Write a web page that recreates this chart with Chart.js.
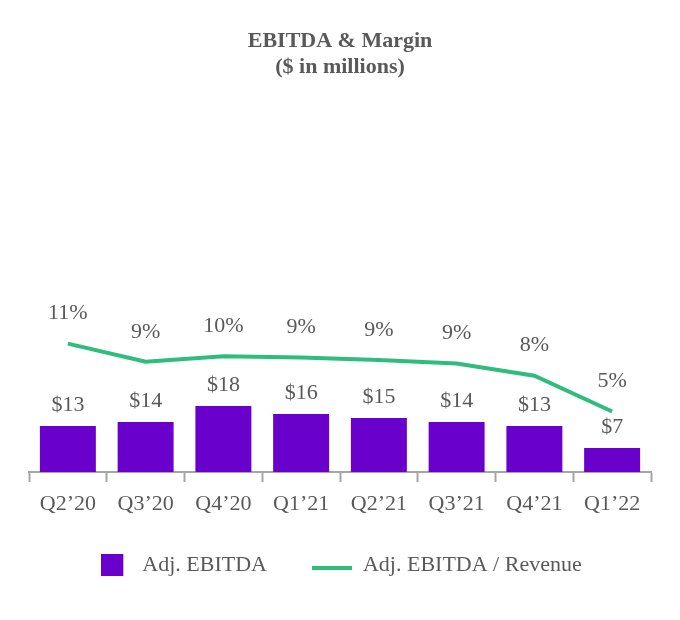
<!DOCTYPE html>
<html>
<head>
<meta charset="utf-8">
<script src="https://cdn.jsdelivr.net/npm/chart.js@4.4.1/dist/chart.umd.min.js"></script>
<style>
  html, body { margin: 0; padding: 0; background: #ffffff; }
  #wrap { width: 680px; height: 620px; }
</style>
</head>
<body>
<div id="wrap"><canvas id="c" width="680" height="620"></canvas></div>
<script>
const categories = ["Q2\u201920", "Q3\u201920", "Q4\u201920", "Q1\u201921", "Q2\u201921", "Q3\u201921", "Q4\u201921", "Q1\u201922"];
const adjEbitda = [12.8, 13.9, 18.3, 16.1, 15.0, 13.9, 12.8, 6.7];
const ebitdaMargin = [10.6, 9.1, 9.55, 9.45, 9.25, 8.95, 7.95, 5.0];
const seriesNames = ["Adj. EBITDA", "Adj. EBITDA / Revenue"];
const titleLines = ["EBITDA & Margin", "($ in millions)"];

const PURPLE = "#6a00cc";
const GREEN = "#2ebd7c";
const GREY_TEXT = "#595959";
const AXIS_GREY = "#a6a6a6";
const FONT = "'Liberation Serif', 'Times New Roman', serif";

Chart.defaults.font.family = FONT;
Chart.defaults.color = GREY_TEXT;

// legend icons (legend box width 33, icon canvas centred on the box centre)
function makeSquare() {
  const c = document.createElement('canvas');
  c.width = 27; c.height = 22;
  const x = c.getContext('2d');
  x.fillStyle = PURPLE; x.fillRect(0, 0, 22, 22);
  return c;
}
function makeLine() {
  const c = document.createElement('canvas');
  c.width = 47; c.height = 12;
  const x = c.getContext('2d');
  x.fillStyle = GREEN; x.fillRect(0, 7, 40, 4);
  return c;
}
const squareIcon = makeSquare();
const lineIcon = makeLine();

const valueLabels = {
  id: 'valueLabels',
  afterDatasetsDraw(chart) {
    const ctx = chart.ctx;
    ctx.save();
    ctx.font = "22px " + FONT;
    ctx.fillStyle = GREY_TEXT;
    ctx.textAlign = 'center';
    ctx.textBaseline = 'middle';
    chart.data.datasets.forEach((ds, di) => {
      const meta = chart.getDatasetMeta(di);
      meta.data.forEach((el, i) => {
        const v = ds.data[i];
        let txt, dy;
        if (ds.type === 'bar') { txt = '$' + Math.round(v); dy = 21; }
        else { txt = Math.round(v) + '%'; dy = 30; }
        ctx.fillText(txt, el.x, el.y - dy);
      });
    });
    ctx.restore();
  }
};

// let the category labels extend below the (short) x-axis box without clipping
const labelRoom = {
  id: 'labelRoom',
  afterLayout(chart) {
    const x = chart.scales.x;
    x.bottom = x.top + 52;
  }
};

new Chart(document.getElementById('c'), {
  data: {
    labels: categories,
    datasets: [
      {
        type: 'bar',
        label: seriesNames[0],
        data: adjEbitda,
        backgroundColor: PURPLE,
        yAxisID: 'y',
        categoryPercentage: 1.0,
        barPercentage: 0.72,
        order: 2
      },
      {
        type: 'line',
        label: seriesNames[1],
        data: ebitdaMargin,
        borderColor: GREEN,
        backgroundColor: GREEN,
        borderWidth: 4,
        pointRadius: 0,
        tension: 0,
        yAxisID: 'y2',
        order: 1
      }
    ]
  },
  options: {
    responsive: false,
    animation: false,
    layout: { padding: { left: 29, right: 29, top: 0, bottom: 34 } },
    plugins: {
      tooltip: { enabled: false },
      title: {
        display: true,
        text: titleLines,
        color: GREY_TEXT,
        font: { size: 22, weight: 'bold', family: FONT, lineHeight: 1.15 },
        padding: { top: 29, bottom: 0 }
      },
      legend: {
        position: 'bottom',
        align: 'center',
        labels: {
          usePointStyle: true,
          pointStyleWidth: 33,
          padding: 52,
          color: GREY_TEXT,
          font: { size: 22, family: FONT },
          generateLabels(chart) {
            return [
              { text: seriesNames[0], pointStyle: squareIcon, fillStyle: PURPLE, strokeStyle: PURPLE, lineWidth: 0, hidden: false, datasetIndex: 0, fontColor: GREY_TEXT },
              { text: seriesNames[1], pointStyle: lineIcon, fillStyle: GREEN, strokeStyle: GREEN, lineWidth: 0, hidden: false, datasetIndex: 1, fontColor: GREY_TEXT }
            ];
          }
        }
      }
    },
    scales: {
      x: {
        offset: true,
        afterFit(scale) { scale.height = 30; },
        grid: {
          offset: true,
          drawOnChartArea: false,
          drawTicks: true,
          tickLength: 10,
          tickWidth: 2,
          tickColor: AXIS_GREY
        },
        border: { display: true, color: AXIS_GREY, width: 2 },
        ticks: {
          color: GREY_TEXT,
          padding: 11,
          font: { size: 22, family: FONT, lineHeight: 1.0 },
          maxRotation: 0,
          autoSkip: false
        }
      },
      y: {
        display: false,
        min: 0,
        max: 109.0
      },
      y2: {
        display: false,
        min: 0,
        max: 32.4
      }
    }
  },
  plugins: [valueLabels, labelRoom]
});
</script>
</body>
</html>
